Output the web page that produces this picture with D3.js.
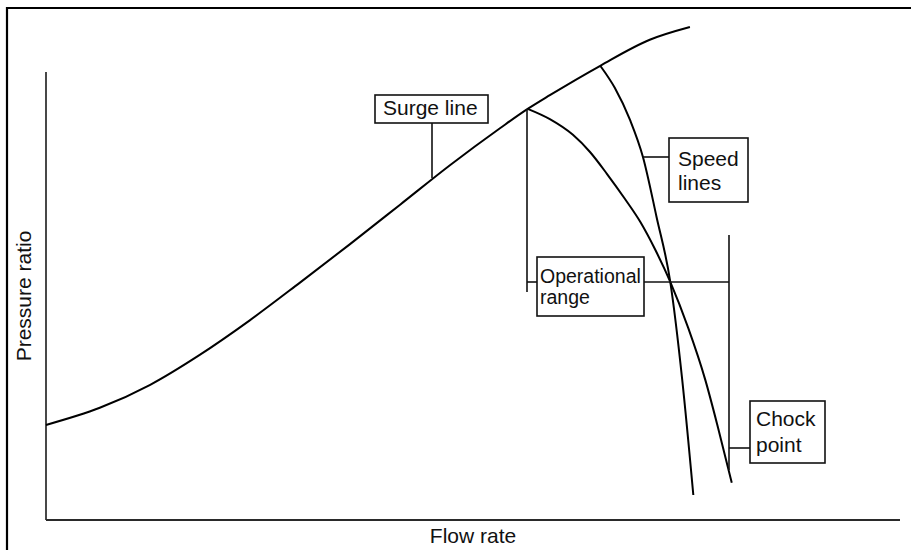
<!DOCTYPE html>
<html>
<head>
<meta charset="utf-8">
<script src="https://cdn.jsdelivr.net/npm/d3@7"></script>
<style>
  html, body { margin: 0; padding: 0; background: #fff; }
  svg { display: block; }
  text { font-family: "Liberation Sans", Arial, sans-serif; fill: #111; }
</style>
</head>
<body>
<div id="chart"></div>
<script>
// Surge line (flow rate, pressure ratio), arbitrary units 0-100
const surgeFlow = [0, 6.3, 12.2, 18.0, 23.9, 29.7, 35.6, 41.5, 47.3, 53.2, 56.4, 59.0, 64.9, 70.7, 75.4];
const surgePress = [19.4, 22.9, 27.6, 33.7, 40.8, 48.4, 56.3, 64.4, 72.4, 80.0, 83.9, 86.7, 92.7, 98.0, 100.6];

// Speed line 1 (starts at operating point on the surge line)
const speed1Flow = [56.4, 59.0, 61.7, 63.7, 65.7, 67.8, 69.6, 71.3, 73.1, 75.2, 77.2, 78.7, 80.3];
const speed1Press = [83.9, 81.8, 78.6, 75.1, 70.6, 65.5, 60.8, 55.3, 48.6, 39.2, 28.6, 18.8, 7.6];

// Speed line 2
const speed2Flow = [64.9, 66.6, 68.4, 69.9, 71.5, 73.1, 74.5, 75.8];
const speed2Press = [92.7, 88.2, 81.6, 74.1, 61.8, 48.6, 28.6, 5.1];

const labels = {
  surge: ["Surge line"],
  speed: ["Speed", "lines"],
  oper: ["Operational", "range"],
  chock: ["Chock", "point"]
};
const xTitle = "Flow rate";
const yTitle = "Pressure ratio";

const W = 911, H = 550;

const x = d3.scaleLinear().domain([0, 100]).range([46, 900]);
const y = d3.scaleLinear().domain([0, 100]).range([520, 30]);

const svg = d3.select("#chart").append("svg")
  .attr("width", W).attr("height", H);

// outer frame (only top and left edges visible)
svg.append("path")
  .attr("d", "M7,550 L7,8 L911,8")
  .attr("fill", "none").attr("stroke", "#000").attr("stroke-width", 2.2);

// axes
svg.append("line")
  .attr("x1", x(0)).attr("x2", x(0))
  .attr("y1", 72).attr("y2", y(0))
  .attr("stroke", "#1a1a1a").attr("stroke-width", 1.6);
svg.append("line")
  .attr("x1", x(0)).attr("x2", x(100))
  .attr("y1", y(0)).attr("y2", y(0))
  .attr("stroke", "#2a2a2a").attr("stroke-width", 1.8);

svg.append("text")
  .attr("x", 473).attr("y", 543)
  .attr("text-anchor", "middle")
  .style("font-size", "21px")
  .text(xTitle);

svg.append("text")
  .attr("transform", "translate(31,296) rotate(-90)")
  .attr("text-anchor", "middle")
  .style("font-size", "21px")
  .text(yTitle);

// curves
const line = d3.line()
  .x(d => x(d[0])).y(d => y(d[1]))
  .curve(d3.curveMonotoneX);

const curves = [
  d3.zip(surgeFlow, surgePress),
  d3.zip(speed1Flow, speed1Press),
  d3.zip(speed2Flow, speed2Press)
];

svg.selectAll(".curve")
  .data(curves)
  .join("path")
  .attr("class", "curve")
  .attr("d", line)
  .attr("fill", "none")
  .attr("stroke", "#000")
  .attr("stroke-width", 2);

// leader lines
const leaders = [
  [[432, 123], [432, 178]],                                 // surge
  [[643, 157], [669, 157]],                                 // speed lines
  [[527, y(speed1Press[0])], [527, 292]],                   // operational bracket left
  [[527, 282], [537, 282]],
  [[644, 282], [729, 282]],
  [[729, 235], [729, 470]],                                 // operational bracket right
  [[729, 448], [750, 448]]                                  // chock
];
svg.selectAll(".leader")
  .data(leaders)
  .join("line")
  .attr("class", "leader")
  .attr("x1", d => d[0][0]).attr("y1", d => d[0][1])
  .attr("x2", d => d[1][0]).attr("y2", d => d[1][1])
  .attr("stroke", "#111")
  .attr("stroke-width", 1.6);

// label boxes
function box(x0, y0, w, h, lines, tx, ty, dy, fs) {
  svg.append("rect")
    .attr("x", x0).attr("y", y0).attr("width", w).attr("height", h)
    .attr("fill", "#fff").attr("stroke", "#111").attr("stroke-width", 1.6);
  lines.forEach((t, i) => {
    svg.append("text")
      .attr("x", tx).attr("y", ty + i * dy)
      .style("font-size", fs + "px")
      .text(t);
  });
}

box(375, 95, 113, 28, labels.surge, 383, 115, 0, 21);
box(669, 138, 79, 64, labels.speed, 678, 166, 24, 21);
box(537, 257, 107, 59, labels.oper, 540, 283, 21, 19.5);
box(750, 401, 75, 62, labels.chock, 756, 426, 26, 21);
</script>
</body>
</html>
